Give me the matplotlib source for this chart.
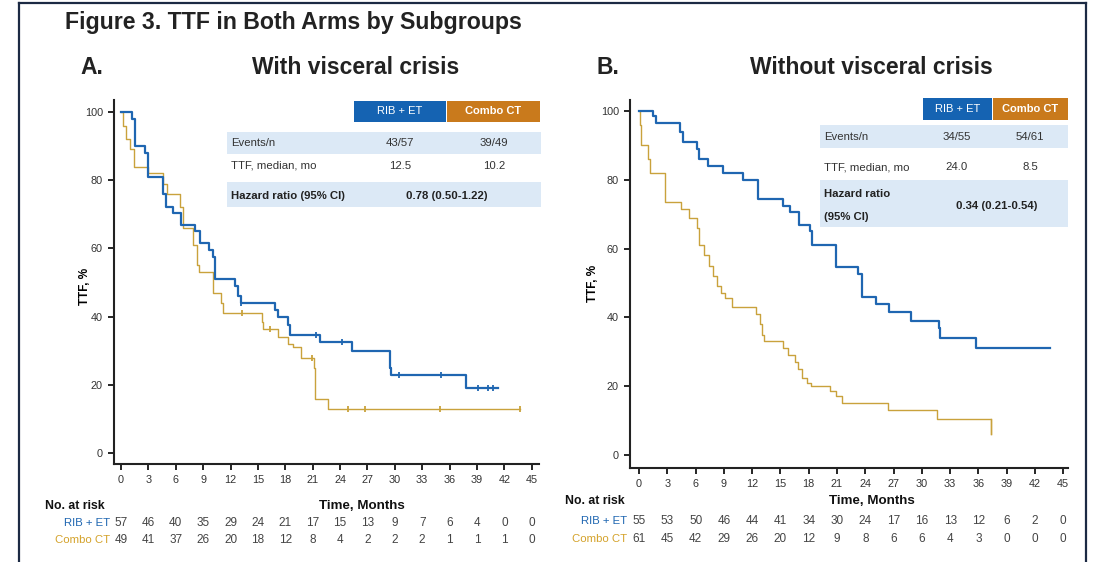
import matplotlib.pyplot as plt
from matplotlib.patches import Rectangle
from matplotlib.transforms import blended_transform_factory

W, H = 1102, 562

# Kaplan-Meier steps: drop times (months) and TTF (%) after each drop
a_rib_t = [0, 1.2, 1.5, 2.6, 3.0, 4.6, 4.9, 5.7, 6.6, 8.1, 8.6, 9.6, 10.1, 10.3, 12.5, 12.8, 13.1, 16.9, 17.2, 18.3, 18.5, 21.8, 25.3, 29.5, 29.6, 37.8]
a_rib_s = [100, 98, 90, 88, 81, 76, 72, 70.5, 67, 65, 61.5, 59.5, 57.5, 51, 49, 46, 44, 42, 40, 37.5, 34.5, 32.5, 30, 25, 23, 19]
a_rib_end = 41.3
a_rib_cens_t = [13.2, 21.4, 24.2, 30.5, 35.1, 39.1, 40.2, 40.8]

a_ct_t = [0, 0.2, 0.5, 1.0, 1.4, 3.0, 4.6, 5.0, 6.5, 6.8, 7.9, 8.3, 8.5, 10.1, 10.9, 11.2, 15.4, 15.6, 17.2, 18.3, 18.8, 19.7, 21.1, 21.3, 22.7]
a_ct_s = [100, 96, 92, 89, 84, 82, 79, 76, 72, 66, 61, 55, 53, 47, 44, 41, 38.5, 36.5, 34, 32, 31, 28, 25, 16, 13]
a_ct_end = 43.7
a_ct_cens_t = [13.3, 16.3, 20.9, 24.9, 26.7, 34.9, 43.7]

b_rib_t = [0, 1.5, 1.8, 4.3, 4.7, 6.1, 6.4, 7.3, 8.9, 11.0, 12.6, 15.3, 16.0, 17.0, 18.1, 18.3, 20.9, 23.2, 23.6, 25.1, 26.5, 28.8, 31.8, 31.9, 35.7]
b_rib_s = [100, 98.5, 96.5, 94, 91, 89, 86, 84, 82, 80, 74.5, 72.5, 70.5, 67, 65, 61, 54.5, 52.5, 46, 44, 41.5, 39, 37, 34, 31]
b_rib_end = 43.6

b_ct_t = [0, 0.1, 0.25, 0.9, 1.2, 2.7, 4.4, 5.3, 6.1, 6.4, 6.9, 7.4, 7.8, 8.3, 8.7, 9.1, 9.9, 12.4, 12.8, 13.0, 13.3, 15.3, 15.8, 16.5, 16.9, 17.3, 17.8, 18.2, 20.3, 20.9, 21.5, 26.4, 31.6, 37.3]
b_ct_s = [100, 96, 90, 86, 82, 73.5, 71.5, 69, 66, 61, 58, 55, 52, 49, 47, 45.5, 43, 41, 38, 35, 33, 31, 29, 27, 25, 22.5, 21, 20, 18.5, 17, 15, 13, 10.5, 6]
b_ct_end = 37.3

months = list(range(0, 46, 3))
a_risk_rib = [57, 46, 40, 35, 29, 24, 21, 17, 15, 13, 9, 7, 6, 4, 0, 0]
a_risk_ct = [49, 41, 37, 26, 20, 18, 12, 8, 4, 2, 2, 2, 1, 1, 1, 0]
b_risk_rib = [55, 53, 50, 46, 44, 41, 34, 30, 24, 17, 16, 13, 12, 6, 2, 0]
b_risk_ct = [61, 45, 42, 29, 26, 20, 12, 9, 8, 6, 6, 4, 3, 0, 0, 0]

a_events = ['43/57', '39/49']
a_median = ['12.5', '10.2']
a_hr = '0.78 (0.50-1.22)'
b_events = ['34/55', '54/61']
b_median = ['24.0', '8.5']
b_hr = '0.34 (0.21-0.54)'

BLUE = '#1f66b1'
GOLD = '#c9a23c'
BOX_BLUE = '#1563b2'
BOX_ORANGE = '#c97a1c'
BAND = '#dce9f6'
NAVY = '#1c2a44'
TXT = 8.2

plt.rcParams['font.family'] = ['Liberation Sans', 'DejaVu Sans']

fig = plt.figure(figsize=(W / 100, H / 100), dpi=100)
fig.patch.set_facecolor('white')


def fx(px):
    return px / W


def fy(py):
    return 1 - py / H


def rect(x0, y0, x1, y1, color):
    fig.add_artist(Rectangle((fx(x0), fy(y1)), (x1 - x0) / W, (y1 - y0) / H,
                             transform=fig.transFigure, facecolor=color,
                             edgecolor='none', zorder=2))


def km(ax, t, s, end, color, lw, cens=None):
    ax.step(t + [end], s + [s[-1]], where='post', color=color, lw=lw, zorder=3)
    if cens:
        ys = []
        for c in cens:
            v = s[0]
            for ti, si in zip(t, s):
                if ti <= c:
                    v = si
            ys.append(v)
        ax.plot(cens, ys, ls='none', marker='|', ms=4, mew=1.3, color=color, zorder=4)


def panel(box, xlim, ylim, ylab_x, ylab_y):
    l, t, r, b = box
    ax = fig.add_axes([fx(l), fy(b), (r - l) / W, (b - t) / H])
    ax.set_facecolor('none')
    ax.set_xlim(*xlim)
    ax.set_ylim(*ylim)
    ax.set_xticks(months)
    ax.set_yticks([0, 20, 40, 60, 80, 100])
    for sp in ['top', 'right']:
        ax.spines[sp].set_visible(False)
    for sp in ['left', 'bottom']:
        ax.spines[sp].set_linewidth(1.5)
        ax.spines[sp].set_color('#222222')
    ax.tick_params(length=4, width=1.2, labelsize=7.8, labelcolor='#333333', pad=4)
    fig.text(fx(ylab_x), fy(ylab_y), 'TTF, %', rotation=90, ha='center',
             va='center', fontsize=8.5, fontweight='bold')
    return ax


def risk_table(ax, rib, ct, row_y, label_right, head_y, head_x, time_x):
    tr = blended_transform_factory(ax.transData, fig.transFigure)
    for m, n in zip(months, rib):
        fig.text(m, fy(row_y[0]), str(n), transform=tr, ha='center', va='center',
                 fontsize=8.5, color='#444444')
    for m, n in zip(months, ct):
        fig.text(m, fy(row_y[1]), str(n), transform=tr, ha='center', va='center',
                 fontsize=8.5, color='#444444')
    fig.text(fx(label_right), fy(row_y[0]), 'RIB + ET', ha='right', va='center',
             fontsize=8.2, color=BLUE)
    fig.text(fx(label_right), fy(row_y[1]), 'Combo CT', ha='right', va='center',
             fontsize=8.2, color='#d4a22a')
    fig.text(fx(head_x), fy(head_y), 'No. at risk', ha='left', va='center',
             fontsize=8.8, fontweight='bold', color='#111111')
    fig.text(fx(time_x), fy(head_y), 'Time, Months', ha='center', va='center',
             fontsize=9.6, fontweight='bold', color='#111111')


def info_table(x0, x1, hx, head, bands, rows, hr_y, hr_lines, cols):
    rect(hx[0], head[0], hx[1], head[1], BOX_BLUE)
    rect(hx[1] + 1, head[0], hx[2], head[1], BOX_ORANGE)
    fig.text(fx((hx[0] + hx[1]) / 2), fy((head[0] + head[1]) / 2), 'RIB + ET', color='white',
             ha='center', va='center', fontsize=8, zorder=5)
    fig.text(fx((hx[1] + hx[2]) / 2), fy((head[0] + head[1]) / 2), 'Combo CT', color='white',
             ha='center', va='center', fontsize=8, fontweight='bold', zorder=5)
    for y0, y1 in bands:
        rect(x0, y0, x1, y1, BAND)
    for (label, vals, y) in rows:
        fig.text(fx(x0 + 4), fy(y), label, ha='left', va='center', fontsize=TXT,
                 color='#333333', zorder=5)
        for cx, v in zip(cols, vals):
            fig.text(fx(cx), fy(y), v, ha='center', va='center', fontsize=TXT,
                     color='#333333', zorder=5)
    for txt, y in zip(hr_lines, hr_y):
        fig.text(fx(x0 + 4), fy(y), txt, ha='left', va='center', fontsize=TXT,
                 fontweight='bold', color='#222222', zorder=5)


# figure frame and headings
for xs, ys in [((19, 19), (3, H)), ((19, 1086), (3, 3)), ((1086, 1086), (3, H))]:
    fig.add_artist(plt.Line2D([fx(x) for x in xs], [fy(y) for y in ys],
                              transform=fig.transFigure, color=NAVY, lw=1.6))
fig.text(fx(65), fy(22), 'Figure 3. TTF in Both Arms by Subgroups', ha='left', va='center',
         fontsize=16.7, fontweight='bold', color='#222222')
fig.text(fx(80), fy(67), 'A.', ha='left', va='center', fontsize=16.5, fontweight='bold', color='#222222')
fig.text(fx(356), fy(67), 'With visceral crisis', ha='center', va='center', fontsize=16.5,
         fontweight='bold', color='#222222')
fig.text(fx(597), fy(67), 'B.', ha='left', va='center', fontsize=16.5, fontweight='bold', color='#222222')
fig.text(fx(871), fy(67), 'Without visceral crisis', ha='center', va='center', fontsize=16.5,
         fontweight='bold', color='#222222')

# panel A
axA = panel((114, 100, 539, 464), (-0.77, 45.8), (-3.2, 103.5), 85, 286)
km(axA, a_ct_t, a_ct_s, a_ct_end, GOLD, 1.0, a_ct_cens_t)
km(axA, a_rib_t, a_rib_s, a_rib_end, BLUE, 1.6, a_rib_cens_t)
risk_table(axA, a_risk_rib, a_risk_ct, (523, 540), 110, 506, 45, 362)
info_table(227, 541, (354, 446, 540), (101, 122), [(132, 154), (182, 207)],
           [('Events/n', a_events, 143), ('TTF, median, mo', a_median, 166)],
           [196], ['Hazard ratio (95% CI)'], (400, 494))
fig.text(fx(447), fy(196), a_hr, ha='center', va='center', fontsize=TXT,
         fontweight='bold', color='#222222', zorder=5)

# panel B
axB = panel((630, 100, 1068, 468), (-0.96, 45.5), (-3.8, 103.2), 593, 283)
km(axB, b_ct_t, b_ct_s, b_ct_end, GOLD, 1.0)
axB.plot([b_ct_end, b_ct_end], [b_ct_s[-2], b_ct_s[-1]], color=GOLD, lw=1.0)
km(axB, b_rib_t, b_rib_s, b_rib_end, BLUE, 1.6)
risk_table(axB, b_risk_rib, b_risk_ct, (521, 539), 627, 501, 565, 872)
info_table(820, 1068, (923, 992, 1068), (98, 120), [(125, 148), (180, 227)],
           [('Events/n', b_events, 137), ('TTF, median, mo', b_median, 167)],
           [194, 217], ['Hazard ratio', '(95% CI)'], (957, 1030))
fig.text(fx(997), fy(206), b_hr, ha='center', va='center', fontsize=TXT,
         fontweight='bold', color='#222222', zorder=5)

fig.savefig('out.png', dpi=100)
